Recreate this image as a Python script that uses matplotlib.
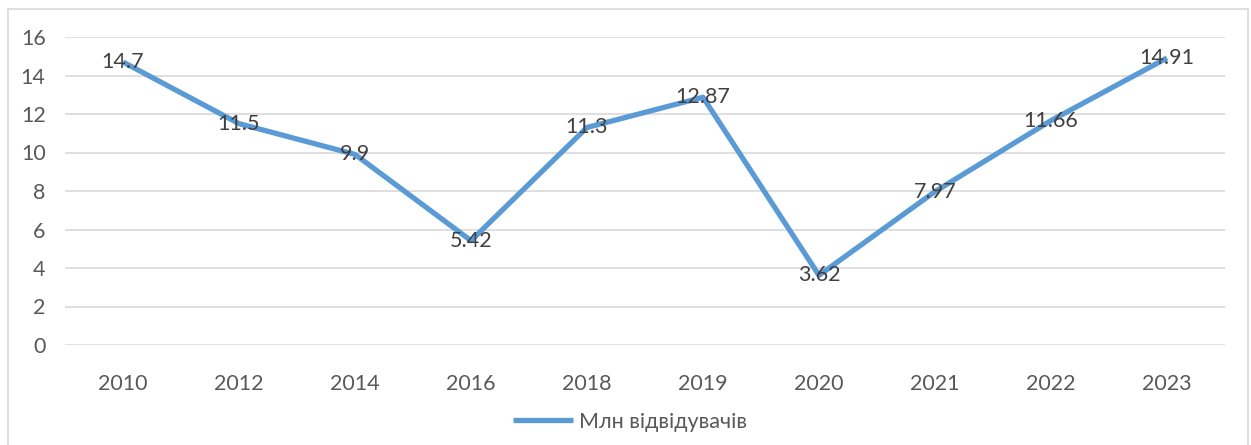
import matplotlib.pyplot as plt
from matplotlib.patches import Rectangle

years = ["2010", "2012", "2014", "2016", "2018", "2019", "2020", "2021", "2022", "2023"]
visitors = [14.7, 11.5, 9.9, 5.42, 11.3, 12.87, 3.62, 7.97, 11.66, 14.91]
labels = ["14.7", "11.5", "9.9", "5.42", "11.3", "12.87", "3.62", "7.97", "11.66", "14.91"]

plt.rcParams['font.family'] = ['Lato', 'Noto Sans', 'DejaVu Sans']
text_color = "#595959"
fs = 15.5

fig = plt.figure(figsize=(12.51, 4.45), dpi=100)
ax = fig.add_axes([65 / 1251, 1 - 345 / 445, 1160 / 1251, 308 / 445])

x = range(len(years))
ax.plot(x, visitors, color="#5B9BD5", linewidth=3.8, solid_capstyle="butt",
        label="Млн відвідувачів", zorder=3)
for i, v in enumerate(visitors):
    ax.text(i, v, labels[i], ha="center", va="center", fontsize=fs,
            color="#404040", zorder=4)

ax.set_xlim(-0.5, len(years) - 0.5)
ax.set_ylim(0, 16)
ax.set_yticks(range(0, 17, 2))
ax.set_xticks(list(x))
ax.set_xticklabels(years)
ax.grid(axis="y", color="#D9D9D9", linewidth=1.2)
ax.set_axisbelow(True)
for s in ax.spines.values():
    s.set_visible(False)
ax.tick_params(axis="both", length=0, labelsize=fs, labelcolor=text_color)
ax.tick_params(axis="x", pad=21)
ax.tick_params(axis="y", pad=14)

fig.legend(loc="center", bbox_to_anchor=(630 / 1251, 1 - 422 / 445), frameon=False,
           fontsize=fs, labelcolor=text_color, handlelength=2.8, handletextpad=0.3)

fig.patches.append(Rectangle((8 / 1251, -0.05), 1240 / 1251, 1 - 9 / 445 + 0.05,
                             transform=fig.transFigure, fill=False,
                             edgecolor="#D9D9D9", linewidth=1.2))

fig.savefig("out.png", dpi=100)
